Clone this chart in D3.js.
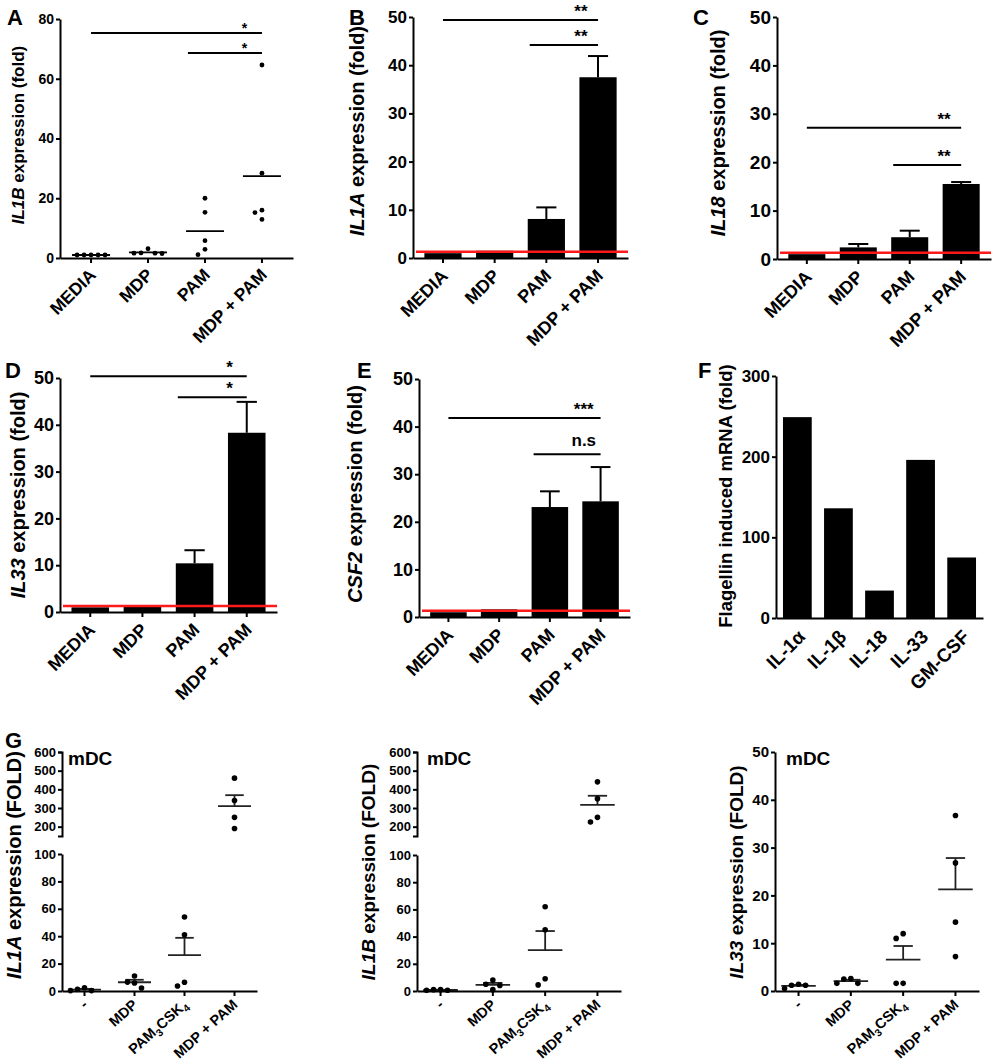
<!DOCTYPE html>
<html><head><meta charset="utf-8">
<script src="https://cdn.jsdelivr.net/npm/d3@7"></script>
<style>
body{margin:0;background:#fff}
svg{display:block}
text{font-family:Arial,"Liberation Sans",Helvetica,sans-serif;font-weight:bold;fill:#000;white-space:pre}
</style>
</head><body>
<svg id="c" width="992" height="1064"></svg>
<script>
// ---------- DATA ----------
const treatCats = ["MEDIA", "MDP", "PAM", "MDP + PAM"];
// Panel A: IL1B fold, individual donors
const il1bA = [[1, 1, 1, 1, 1], [3.1, 1.6, 1.5, 1.6, 1.7], [20, 15.3, 5.8, 2.9, 1.1], [64.6, 28.4, 16, 15.2, 12.9]];
const sigA = [["MEDIA", "MDP + PAM", 75.3, "*"], ["PAM", "MDP + PAM", 68.6, "*"]];
// Panel B: IL1A
const il1aMean = [1, 1.5, 8.1, 37.5];
const il1aErr = [0, 0, 2.4, 4.4];
const sigB = [["MEDIA", "MDP + PAM", 49.4, "**"], ["PAM", "MDP + PAM", 44.2, "**"]];
// Panel C: IL18
const il18Mean = [1, 2.4, 4.5, 15.5];
const il18Err = [0, 0.7, 1.35, 0.4];
const sigC = [["MEDIA", "MDP + PAM", 27.1, "**"], ["PAM", "MDP + PAM", 19.4, "**"]];
// Panel D: IL33
const il33Mean = [1, 1.4, 10.4, 38.3];
const il33Err = [0, 0, 2.8, 6.6];
const sigD = [["MEDIA", "MDP + PAM", 50.4, "*"], ["PAM", "MDP + PAM", 45.9, "*"]];
// Panel E: CSF2
const csf2Mean = [1, 1.6, 23.1, 24.3];
const csf2Err = [0, 0, 3.3, 7.2];
const sigE = [["MEDIA", "MDP + PAM", 41.8, "***"], ["PAM", "MDP + PAM", 34.2, "n.s"]];
const baselineFold = 1.3;
// Panel F: flagellin
const flagCats = ["IL-1\u03b1", "IL-1\u03b2", "IL-18", "IL-33", "GM-CSF"];
const flagVals = [249, 136, 34, 196, 75];
// Panel G: mDC
const gCats = ["-", "MDP", "PAM3CSK4", "MDP + PAM"];
const il1aG = [[1.2, 0.3, 0.3, 2.4], [11, 6.5, 5.8, 2.2], [54, 41, 6.4, 3.6], [460, 340, 250, 190]];
const il1bG = [[1, 0.5, 0.5, 1], [8, 5, 4, 1], [62, 45, 9, 4.5], [440, 350, 250, 225]];
const il33G = [[1.2, 0.5, 1.2, 1.4], [2.5, 1.6, 1.6, 2.6], [12, 11, 1.6, 1.6], [36.7, 26.8, 14.4, 7.2]];
const ticks80 = [0, 20, 40, 60, 80];
const ticks50 = [0, 10, 20, 30, 40, 50];
const ticks300 = [0, 100, 200, 300];
const ticks100 = [0, 20, 40, 60, 80, 100];
const ticksUpper = [200, 300, 400, 500, 600];

// ---------- HELPERS ----------
const svg = d3.select("#c");

function styleAxis(g, fs) {
  g.attr("font-family", null).attr("font-size", fs);
  g.select(".domain").attr("stroke", "#000").attr("stroke-width", 2);
  g.selectAll(".tick line").attr("stroke", "#000").attr("stroke-width", 2);
  g.selectAll(".tick text").attr("fill", "#000");
}
function addYAxis(y, x, ticks, fs, outer) {
  const g = svg.append("g").attr("transform", `translate(${x},0)`)
    .call(d3.axisLeft(y).tickValues(ticks).tickSize(4).tickSizeOuter(outer || 0).tickPadding(2));
  styleAxis(g, fs);
  return g;
}
function addXAxis(x, yPos, fs, tickLen, rot, off) {
  const g = svg.append("g").attr("transform", `translate(0,${yPos})`)
    .call(d3.axisBottom(x).tickSize(tickLen).tickSizeOuter(0));
  styleAxis(g, fs);
  g.selectAll(".tick text").attr("x", 0).attr("y", 0).attr("dy", null).attr("text-anchor", "end")
    .attr("transform", `translate(${off[0]},${off[1]}) rotate(${rot})`);
  g.selectAll(".tick text").filter(d => d === "PAM3CSK4").each(function () {
    const t = d3.select(this).text(null);
    t.append("tspan").text("PAM");
    t.append("tspan").attr("font-size", fs * 0.72).attr("dy", 4).text("3");
    t.append("tspan").attr("dy", -4).text("CSK");
    t.append("tspan").attr("font-size", fs * 0.72).attr("dy", 4).text("4");
  });
  return g;
}
function yLabel(x, y, fs, gene, rest) {
  const t = svg.append("text").attr("transform", `translate(${x},${y}) rotate(-90)`)
    .attr("text-anchor", "middle").attr("font-size", fs);
  if (gene) t.append("tspan").attr("font-style", "italic").text(gene);
  t.append("tspan").text(rest);
}
function letter(x, y, s) {
  svg.append("text").attr("x", x).attr("y", y).attr("font-size", 22).text(s);
}
function sigBrackets(x, y, sig, fs, lift) {
  const bw = x.bandwidth();
  const first = x.domain()[0];
  sig.forEach(([a, b, v, lab]) => {
    const x1 = a === first ? x(a) + bw / 2 : x(a) + 2;
    const x2 = x(b) + bw / 2;
    svg.append("line").attr("x1", x1).attr("x2", x2).attr("y1", y(v)).attr("y2", y(v))
      .attr("stroke", "#000").attr("stroke-width", 2);
    const isStar = lab.indexOf("*") >= 0;
    svg.append("text").attr("x", x2 - bw * 0.46).attr("y", y(v) - (isStar ? lift : 8))
      .attr("text-anchor", "middle").attr("font-size", fs).text(lab);
  });
}
function swarm(vals, yf, cx, minD, step) {
  const order = vals.map((v, i) => i).sort((a, b) => vals[b] - vals[a]);
  const placed = [], res = new Array(vals.length);
  for (const i of order) {
    const py = yf(vals[i]);
    for (let k = 0; k < 30; k++) {
      const off = k === 0 ? 0 : (k % 2 ? -Math.ceil(k / 2) * step : Math.ceil(k / 2) * step);
      const px = cx + off;
      if (placed.every(p => Math.hypot(p[0] - px, p[1] - py) >= minD)) {
        placed.push([px, py]); res[i] = [px, py]; break;
      }
    }
  }
  return res;
}

// ---------- BAR PANEL ----------
function barPanel(p) {
  const x = d3.scaleBand().domain(p.cats).range([p.x0, p.x1]).paddingInner(p.pi).paddingOuter(p.po);
  const y = d3.scaleLinear().domain([0, p.max]).range([p.yb, p.yt]);
  const bw = x.bandwidth();
  const g = svg.append("g");
  g.selectAll("rect").data(p.cats).join("rect")
    .attr("x", c => x(c)).attr("width", bw)
    .attr("y", (c, i) => y(p.vals[i])).attr("height", (c, i) => y(0) - y(p.vals[i]))
    .attr("fill", "#000");
  if (p.errs) p.cats.forEach((c, i) => {
    if (!p.errs[i]) return;
    const cx = x(c) + bw / 2, top = y(p.vals[i] + p.errs[i]);
    g.append("line").attr("x1", cx).attr("x2", cx).attr("y1", y(p.vals[i])).attr("y2", top)
      .attr("stroke", "#000").attr("stroke-width", 2);
    g.append("line").attr("x1", cx - bw * 0.27).attr("x2", cx + bw * 0.27).attr("y1", top).attr("y2", top)
      .attr("stroke", "#000").attr("stroke-width", 2);
  });
  if (p.baseline != null) g.append("line").attr("x1", p.x0 + 3).attr("x2", p.x1)
    .attr("y1", y(p.baseline)).attr("y2", y(p.baseline)).attr("stroke", "#ff1a1a").attr("stroke-width", 2.5);
  addXAxis(x, p.yb, p.xfs, p.xtick, -45, p.xoff);
  addYAxis(y, p.x0, p.ticks, p.yfs);
  if (p.sig) sigBrackets(x, y, p.sig, 17, 3);
  yLabel(p.lab[0], p.lab[1], p.lab[2], p.gene, p.rest);
}

// ---------- DOT PANEL (A) ----------
function dotPanelA() {
  const x = d3.scaleBand().domain(treatCats).range([60, 293]).paddingInner(0.33).paddingOuter(0.21);
  const y = d3.scaleLinear().domain([0, 80]).range([258, 19]);
  const bw = x.bandwidth();
  treatCats.forEach((c, i) => {
    const cx = x(c) + bw / 2;
    const m = d3.mean(il1bA[i]);
    svg.append("line").attr("x1", cx - 19).attr("x2", cx + 19).attr("y1", y(m)).attr("y2", y(m))
      .attr("stroke", "#000").attr("stroke-width", 1.8);
    const pts = swarm(il1bA[i], y, cx, 6.5, 7);
    svg.append("g").selectAll("circle").data(pts).join("circle")
      .attr("cx", d => d[0]).attr("cy", d => d[1]).attr("r", 2.4).attr("fill", "#000");
  });
  addXAxis(x, 258, 17.5, 5, -45, [6, 18]);
  addYAxis(y, 60, ticks80, 14);
  sigBrackets(x, y, sigA, 14, 0);
  yLabel(24, 135, 17, "IL1B", " expression (fold)");
}

// ---------- G PANELS ----------
function gPanel(p) {
  const x = d3.scaleBand().domain(gCats).range([p.x0, p.x1]).paddingInner(0.34).paddingOuter(0.12);
  const bw = x.bandwidth();
  const yLow = d3.scaleLinear().domain([0, p.lowMax]).range([991, p.lowTop]);
  const yUp = p.broken ? d3.scaleLinear().domain([150, 600]).range([836, 752]) : null;
  const yf = v => (p.broken && v >= 150) ? yUp(v) : yLow(v);
  p.data.forEach((vals, i) => {
    const cx = x(gCats[i]) + bw / 2;
    const m = d3.mean(vals);
    const sem = d3.deviation(vals) / Math.sqrt(vals.length);
    svg.append("line").attr("x1", cx - bw / 2).attr("x2", cx + bw / 2).attr("y1", yf(m)).attr("y2", yf(m))
      .attr("stroke", "#222").attr("stroke-width", 1.8);
    svg.append("line").attr("x1", cx).attr("x2", cx).attr("y1", yf(m)).attr("y2", yf(m + sem))
      .attr("stroke", "#222").attr("stroke-width", 1.8);
    svg.append("line").attr("x1", cx - bw * 0.28).attr("x2", cx + bw * 0.28).attr("y1", yf(m + sem)).attr("y2", yf(m + sem))
      .attr("stroke", "#222").attr("stroke-width", 1.8);
    const pts = swarm(vals, yf, cx, 7, 7);
    svg.append("g").selectAll("circle").data(pts).join("circle")
      .attr("cx", d => d[0]).attr("cy", d => d[1]).attr("r", 2.8).attr("fill", "#000");
  });
  addXAxis(x, 991, 14.5, 5, -42, [4, 15]);
  addYAxis(yLow, p.x0, p.lowTicks, p.yfs);
  if (p.broken) addYAxis(yUp, p.x0, ticksUpper, p.yfs, 4);
  svg.append("text").attr("x", p.mdc).attr("y", 765).attr("font-size", 19).text("mDC");
  yLabel(p.lab[0], p.lab[1], p.lab[2], p.gene, " expression (FOLD)");
}

// ---------- DRAW ----------
dotPanelA();
barPanel({cats: treatCats, vals: il1aMean, errs: il1aErr, x0: 413, x1: 628, yb: 258, yt: 17, max: 50,
  ticks: ticks50, pi: 0.28, po: 0.22, baseline: baselineFold, sig: sigB, xfs: 18, xtick: 5, xoff: [6, 19], yfs: 17,
  lab: [364, 131, 20], gene: "IL1A", rest: " expression (fold)"});
barPanel({cats: treatCats, vals: il18Mean, errs: il18Err, x0: 777, x1: 991, yb: 259, yt: 17, max: 50,
  ticks: ticks50, pi: 0.28, po: 0.22, baseline: baselineFold, sig: sigC, xfs: 18, xtick: 5, xoff: [6, 19], yfs: 19,
  lab: [725, 133, 20], gene: "IL18", rest: " expression (fold)"});
barPanel({cats: treatCats, vals: il33Mean, errs: il33Err, x0: 60, x1: 277, yb: 612, yt: 378, max: 50,
  ticks: ticks50, pi: 0.28, po: 0.22, baseline: baselineFold, sig: sigD, xfs: 18, xtick: 5, xoff: [6, 19], yfs: 18,
  lab: [25, 495, 20], gene: "IL33", rest: " expression (fold)"});
barPanel({cats: treatCats, vals: csf2Mean, errs: csf2Err, x0: 419, x1: 630, yb: 617, yt: 379, max: 50,
  ticks: ticks50, pi: 0.28, po: 0.22, baseline: baselineFold, sig: sigE, xfs: 18, xtick: 5, xoff: [6, 19], yfs: 18,
  lab: [362, 494, 20], gene: "CSF2", rest: " expression (fold)"});
barPanel({cats: flagCats, vals: flagVals, errs: null, x0: 776, x1: 983, yb: 618, yt: 376, max: 300,
  ticks: ticks300, pi: 0.3, po: 0.17, baseline: null, sig: null, xfs: 19, xtick: 0, xoff: [9, 20], yfs: 17,
  lab: [732, 496, 18.5], gene: null, rest: "Flagellin induced mRNA (fold)"});
gPanel({x0: 62, x1: 257, data: il1aG, broken: true, lowMax: 100, lowTop: 854, lowTicks: ticks100, yfs: 13,
  mdc: 68, lab: [21, 865, 20], gene: "IL1A"});
gPanel({x0: 417, x1: 621, data: il1bG, broken: true, lowMax: 100, lowTop: 855, lowTicks: ticks100, yfs: 13,
  mdc: 427, lab: [375, 872, 19], gene: "IL1B"});
gPanel({x0: 775, x1: 979, data: il33G, broken: false, lowMax: 50, lowTop: 752, lowTicks: ticks50, yfs: 15,
  mdc: 786, lab: [743, 872, 19], gene: "IL33"});

letter(7, 25, "A"); letter(349, 25, "B"); letter(693, 25, "C");
letter(5, 378, "D"); letter(357, 378, "E"); letter(698, 378, "F");
letter(5, 748, "G");
</script>
</body></html>
